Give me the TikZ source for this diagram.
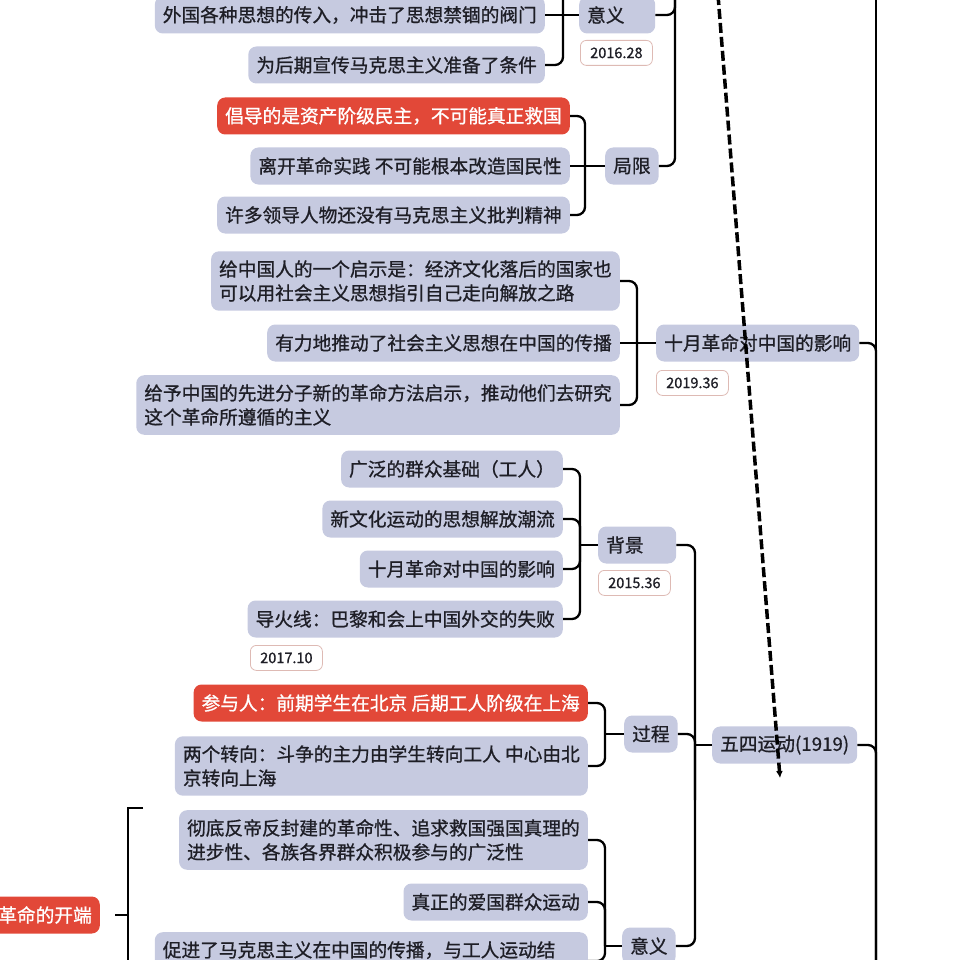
\documentclass[tikz,border=0pt]{standalone}
\usepackage{fontspec}
\setmainfont{Noto Sans CJK SC}[FakeBold=0.9]
\usetikzlibrary{arrows.meta}
\definecolor{boxfill}{RGB}{198,202,224}
\definecolor{hotred}{RGB}{226,72,56}
\definecolor{ink}{RGB}{30,30,38}
\definecolor{tagline}{RGB}{222,186,180}

\begin{document}
\begin{tikzpicture}[x=1pt,y=-1pt,
  every node/.style={font=\fontsize{18.7}{24}\selectfont, text=ink},
  topic/.style={fill=boxfill, rounded corners=8pt, inner xsep=8pt, inner ysep=9pt, minimum height=37pt, align=left},
  hot/.style={topic, fill=hotred, text=white},
  tag/.style={draw=tagline, fill=white, rounded corners=6pt, line width=0.8pt, font=\fontsize{14.5}{16}\selectfont, minimum width=72pt, minimum height=25pt, inner sep=0pt},
  link/.style={line width=2.3pt, rounded corners=8pt},
  dasharrow/.style={line width=3.5pt, dash pattern=on 10pt off 4pt, -{Latex[length=7pt,width=7pt]}}]
  \useasboundingbox (0,0) rectangle (960,960);
  \clip (0,0) rectangle (960,960);

  % top branch
  \node[topic, anchor=east] (wgsx) at (545,15) {外国各种思想的传入，冲击了思想禁锢的阀门};
  \node[topic, anchor=east] (whqc) at (545,65) {为后期宣传马克思主义准备了条件};
  \node[topic, anchor=west, text width=60pt] (yiyiA) at (579,15) {意义};
  \node[tag, anchor=north west] (tagA) at (580,40) {2016.28};
  \node[hot, anchor=east] (cd1) at (570,116) {倡导的是资产阶级民主，不可能真正救国};
  \node[topic, anchor=east] (lk) at (570,166) {离开革命实践 不可能根本改造国民性};
  \node[topic, anchor=east] (xd) at (570,215) {许多领导人物还没有马克思主义批判精神};
  \node[topic, anchor=west] (juxian) at (605,166) {局限};

  \draw[link] (wgsx) -- (yiyiA);
  \draw[link] (563,-5) |- (whqc.east);
  \draw[link] (yiyiA.east) -| (675,-5);
  \draw[link] (juxian.east) -| (675,-5);
  \draw[link] (cd1.east) -| (585,166) |- (xd.east);
  \draw[link] (lk) -- (juxian);

  % october revolution
  \node[topic, anchor=east] (gz) at (620,281) {给中国人的一个启示是：经济文化落后的国家也\\可以用社会主义思想指引自己走向解放之路};
  \node[topic, anchor=east] (yl) at (620,343) {有力地推动了社会主义思想在中国的传播};
  \node[topic, anchor=east] (gy) at (620,405) {给予中国的先进分子新的革命方法启示，推动他们去研究\\这个革命所遵循的主义};
  \node[topic, anchor=west] (sy) at (656,343) {十月革命对中国的影响};
  \node[tag, anchor=north west] (tagB) at (656,370) {2019.36};

  \draw[link] (gz.east) -| (637,343) |- (gy.east);
  \draw[link] (yl) -- (sy);
  \draw[link] (876,-5) -- (876,965);
  \draw[link] (sy.east) -| (876,965);

  % may fourth
  \node[topic, anchor=east] (gf) at (563,469) {广泛的群众基础（工人）};
  \node[topic, anchor=east] (xwh) at (563,519) {新文化运动的思想解放潮流};
  \node[topic, anchor=east] (syg) at (563,569) {十月革命对中国的影响};
  \node[topic, anchor=east] (dhx) at (563,619) {导火线：巴黎和会上中国外交的失败};
  \node[tag, anchor=north west] (tagD) at (250,645) {2017.10};
  \node[topic, anchor=west, text width=62pt] (bj) at (598,545) {背景};
  \node[tag, anchor=north west] (tagC) at (598,570) {2015.36};

  \node[hot, anchor=east] (cyr) at (588,703) {参与人：前期学生在北京 后期工人阶级在上海};
  \node[topic, anchor=east] (lgzx) at (588,766) {两个转向：斗争的主力由学生转向工人 中心由北\\京转向上海};
  \node[topic, anchor=west] (gc) at (624,734) {过程};

  \node[topic, anchor=east] (cdi) at (588,840) {彻底反帝反封建的革命性、追求救国强国真理的\\进步性、各族各界群众积极参与的广泛性};
  \node[topic, anchor=east] (zz) at (588,902) {真正的爱国群众运动};
  \node[topic, anchor=north east, text width=417pt] (cj) at (588,932) {促进了马克思主义在中国的传播，与工人运动结\\\mbox{}};
  \node[topic, anchor=west] (yiyiB) at (622,946) {意义};

  \node[topic, anchor=west] (ws) at (712,745) {五四运动(1919)};
  \node[hot, anchor=east, text width=110pt, align=right] (kd) at (100,915) {革命的开端};

  \draw[link] (gf.east) -| (580,545) |- (dhx.east);
  \draw[link] (xwh.east) -| (580,545);
  \draw[link] (syg.east) -| (580,545);
  \draw[link] (580,545) -- (bj.west);
  \draw[link] (cyr.east) -| (605,734) |- (lgzx.east);
  \draw[link] (605,734) -- (gc.west);
  \draw[link] (cdi.east) -| (605,946) |- (cj.east);
  \draw[link] (zz.east) -| (605,946);
  \draw[link] (605,946) -- (yiyiB.west);
  \draw[link] (bj.east) -| (695,800) |- (yiyiB.east);
  \draw[link] (gc.east) -| (695,800);
  \draw[link] (ws.west) -- (695,745);
  \draw[link] (ws.east) -| (876,965);
  \draw[link, rounded corners=0pt] (143,808) -- (128,808) -- (128,965);
  \draw[link] ([xshift=15pt]kd.east) -- (128,915);

  \coordinate (dashtop) at (718,-5);
  \coordinate (dashend) at (780,778);
  \draw[dasharrow] (dashtop) -- (dashend);
\end{tikzpicture}
\end{document}
